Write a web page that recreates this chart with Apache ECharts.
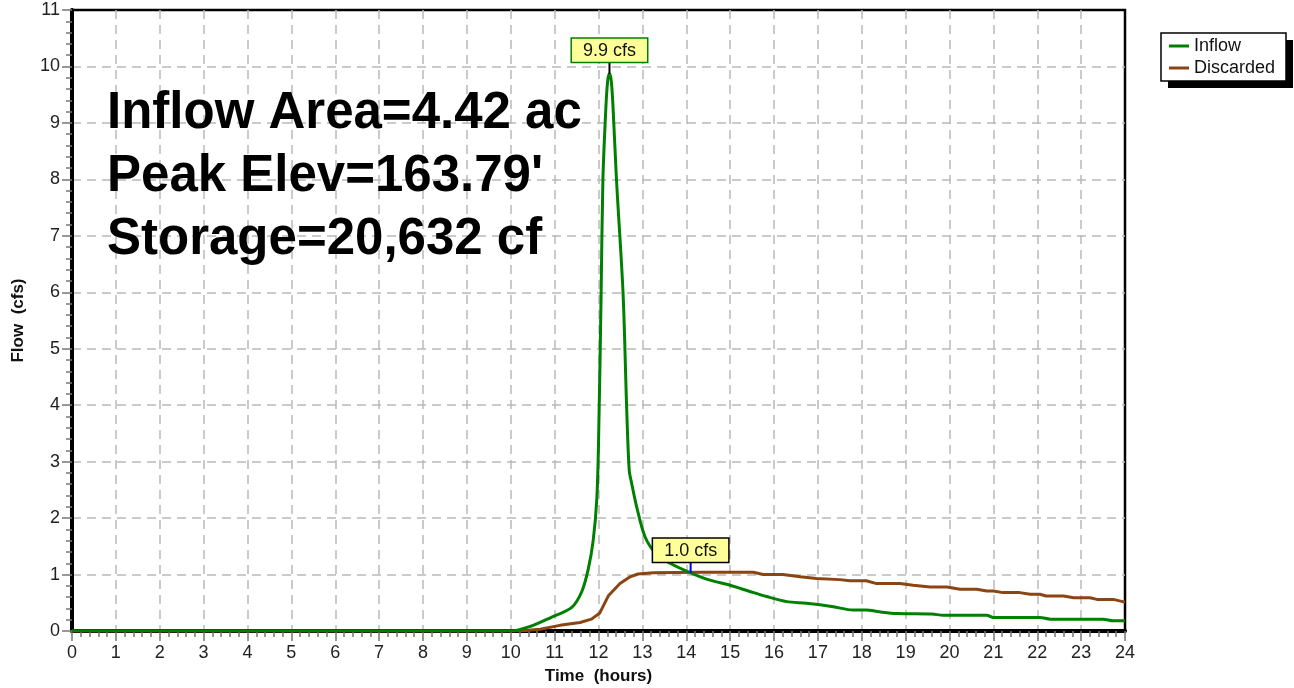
<!DOCTYPE html>
<html>
<head>
<meta charset="utf-8">
<script src="https://cdn.jsdelivr.net/npm/echarts@6/dist/echarts.min.js"></script>
<style>html,body{margin:0;padding:0;background:#fff}#chart{width:1294px;height:688px}</style>
</head>
<body>
<div id="chart"></div>
<script>
const xTicks = [0,1,2,3,4,5,6,7,8,9,10,11,12,13,14,15,16,17,18,19,20,21,22,23,24];
const yTicks = [0,1,2,3,4,5,6,7,8,9,10,11];
const seriesNames = ['Inflow', 'Discarded'];
const inflowHours = [0,10,10.44,10.89,11.39,11.62,11.77,11.88,11.96,12.0,12.06,12.1,12.17,12.21,12.25,12.29,12.33,12.41,12.56,12.64,12.7,12.76,12.87,13.06,13.33,13.63,14.1,14.54,15.0,15.45,15.83,16.29,16.74,17.35,17.8,18.1,18.4,18.8,19.6,19.86,20.85,21.0,22.06,22.3,23.5,23.73,24];
const inflowFlows = [0,0,0.08,0.23,0.42,0.70,1.11,1.61,2.32,3.3,5.98,7.99,9.3,9.75,9.87,9.75,9.3,7.99,5.98,4.0,2.85,2.6,2.2,1.67,1.35,1.2,1.03,0.90,0.81,0.70,0.61,0.52,0.49,0.43,0.37,0.37,0.34,0.31,0.30,0.28,0.28,0.24,0.24,0.21,0.21,0.18,0.18];
const discardedHours = [0,10.2,10.67,11.12,11.58,11.84,12.03,12.23,12.49,12.72,12.9,13.25,14.3,15.53,15.75,16.2,16.6,16.97,17.5,17.73,18.1,18.34,18.87,19.17,19.56,19.94,20.24,20.62,20.85,21.0,21.22,21.6,21.84,22.06,22.2,22.6,22.83,23.2,23.36,23.73,23.95,24];
const discardedFlows = [0,0,0.03,0.1,0.15,0.21,0.32,0.63,0.84,0.96,1.01,1.03,1.04,1.04,1.0,1.0,0.96,0.93,0.91,0.89,0.89,0.84,0.84,0.81,0.78,0.78,0.74,0.74,0.71,0.71,0.68,0.68,0.65,0.65,0.62,0.62,0.59,0.59,0.56,0.56,0.52,0.52];
const peakInflow = {hour: 12.25, flow: 9.87, label: '9.9 cfs'};
const peakDiscarded = {hour: 14.1, flow: 1.03, label: '1.0 cfs'};
const infoLines = ['Inflow Area=4.42 ac', "Peak Elev=163.79'", 'Storage=20,632 cf'];

const FONT = 'Liberation Sans, Arial, sans-serif';
const zip = (a, b) => a.map((v, i) => [v, b[i]]);

const chart = echarts.init(document.getElementById('chart'), null, {renderer: 'canvas'});
const gridLine = {show: true, showMinLine: false, showMaxLine: false, lineStyle: {color: '#b9b9b9', type: [9, 6], width: 1.5}};
const tickStyle = {color: '#777', width: 1.5};

chart.setOption({
  animation: false,
  backgroundColor: '#fff',
  grid: {left: 72, right: 169, top: 10, bottom: 57, outerBoundsMode: 'none', containLabel: false,
    show: true, borderColor: '#000', borderWidth: 2.5, backgroundColor: 'transparent'},
  legend: {
    orient: 'vertical', left: 1169, top: 37, padding: 0, itemGap: 4,
    icon: 'rect', itemWidth: 20, itemHeight: 3,
    textStyle: {fontFamily: FONT, fontSize: 18, color: '#111', padding: [0, 0, 0, 0], lineHeight: 18},
    data: seriesNames, z: 12
  },
  xAxis: {
    type: 'value', min: xTicks[0], max: xTicks[xTicks.length - 1], interval: 1,
    name: 'Time  (hours)', nameLocation: 'middle', nameGap: 37,
    nameTextStyle: {fontFamily: FONT, fontSize: 17, fontWeight: 'bold', color: '#111'},
    axisLine: {show: true, onZero: false, lineStyle: {color: '#000', width: 4}},
    axisTick: {show: true, inside: false, length: 10, lineStyle: tickStyle},
    minorTick: {show: true, splitNumber: 5, length: 6, lineStyle: tickStyle},
    axisLabel: {fontFamily: FONT, fontSize: 18, color: '#222', margin: 13},
    splitLine: gridLine
  },
  yAxis: {
    type: 'value', min: yTicks[0], max: yTicks[yTicks.length - 1], interval: 1,
    name: 'Flow  (cfs)', nameLocation: 'middle', nameGap: 45, nameRotate: 90,
    nameTextStyle: {fontFamily: FONT, fontSize: 17, fontWeight: 'bold', color: '#111'},
    axisLine: {show: true, onZero: false, lineStyle: {color: '#000', width: 4}},
    axisTick: {show: true, inside: false, length: 10, lineStyle: tickStyle},
    minorTick: {show: true, splitNumber: 5, length: 6, lineStyle: tickStyle},
    axisLabel: {fontFamily: FONT, fontSize: 18, color: '#222', margin: 12},
    splitLine: gridLine
  },
  graphic: [
    {type: 'rect', shape: {x: 1168, y: 40, width: 125, height: 48}, style: {fill: '#000'}, z: 10},
    {type: 'rect', shape: {x: 1161, y: 33, width: 125, height: 48}, style: {fill: '#fff', stroke: '#000', lineWidth: 1.5}, z: 11}
  ].concat(infoLines.map((t, i) => ({
    type: 'text', left: 107, top: 88 + i * 63, z: 10,
    style: {text: t, fontFamily: FONT, fontSize: 51, fontWeight: 'bold', fill: '#000'}
  }))),
  series: [
    {
      name: seriesNames[0], type: 'line', data: zip(inflowHours, inflowFlows),
      showSymbol: false, symbol: 'none', smooth: 0.3, z: 3,
      lineStyle: {color: '#008000', width: 3}, itemStyle: {color: '#008000'},
      markPoint: {
        symbol: 'rect', symbolSize: [2, 12], symbolOffset: [0, -6], itemStyle: {color: '#000'},
        label: {show: true, position: 'top', distance: 0, formatter: peakInflow.label,
          fontFamily: FONT, fontSize: 18, color: '#111', backgroundColor: '#ffff99',
          borderColor: '#008000', borderWidth: 1.5, padding: [3, 11, 2, 11]},
        data: [{coord: [peakInflow.hour, peakInflow.flow]}]
      }
    },
    {
      name: seriesNames[1], type: 'line', data: zip(discardedHours, discardedFlows),
      showSymbol: false, symbol: 'none', z: 2,
      lineStyle: {color: '#8b4513', width: 3}, itemStyle: {color: '#8b4513'},
      markPoint: {
        symbol: 'rect', symbolSize: [2, 11], symbolOffset: [0, -5.5], itemStyle: {color: '#0000ff'},
        label: {show: true, position: 'top', distance: 0, formatter: peakDiscarded.label,
          fontFamily: FONT, fontSize: 18, color: '#111', backgroundColor: '#ffff99',
          borderColor: '#000', borderWidth: 1.5, padding: [3, 11, 2, 11]},
        data: [{coord: [peakDiscarded.hour, peakDiscarded.flow]}]
      }
    }
  ]
});
</script>
</body>
</html>
